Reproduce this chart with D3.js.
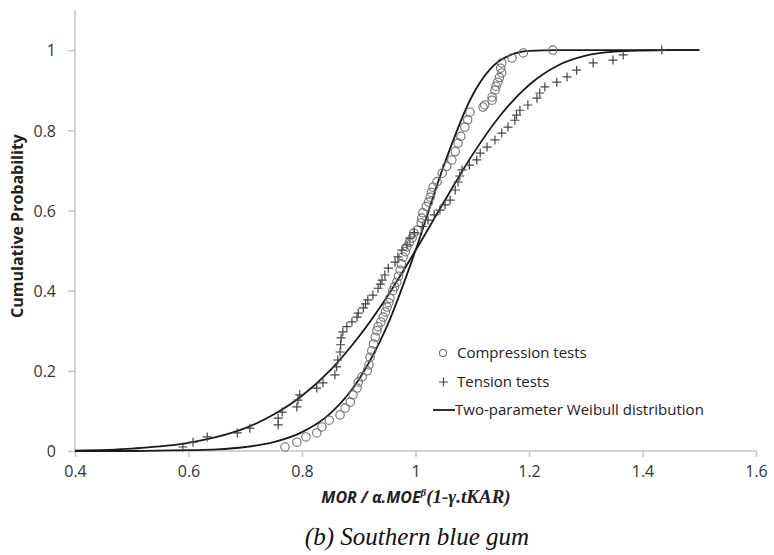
<!DOCTYPE html>
<html>
<head>
<meta charset="utf-8">
<script src="https://cdn.jsdelivr.net/npm/d3@7"></script>
<style>
  body { margin: 0; background: #fff; }
  .tick text { font-family: "Open Sans", sans-serif; font-size: 16px; fill: #333; }
</style>
</head>
<body>
<svg id="chart" width="774" height="555"></svg>
<script>
// fitted Weibull curves
var curveX = [0.4, 0.5, 0.6, 0.65, 0.7, 0.75, 0.8, 0.85, 0.9, 0.95, 1.0, 1.05, 1.1, 1.15, 1.2, 1.25, 1.3, 1.35, 1.4, 1.45, 1.5];
var compCurve = [0, 0, 0.002, 0.004, 0.010, 0.022, 0.047, 0.094, 0.178, 0.312, 0.500, 0.712, 0.886, 0.975, 0.998, 1, 1, 1, 1, 1, 1];
var tensCurve = [0.001, 0.006, 0.020, 0.035, 0.057, 0.091, 0.138, 0.202, 0.285, 0.385, 0.500, 0.621, 0.738, 0.838, 0.913, 0.961, 0.986, 0.996, 0.999, 1, 1];

// compression tests (circles)
var compX = [0.770, 0.791, 0.807, 0.826, 0.835, 0.848, 0.867, 0.876, 0.885, 0.890, 0.897, 0.899, 0.906, 0.915, 0.918, 0.920, 0.923, 0.926, 0.929, 0.932,
             0.934, 0.939, 0.943, 0.947, 0.950, 0.953, 0.955, 0.960, 0.963, 0.967, 0.970, 0.973, 0.975, 0.978, 0.982, 0.985, 0.989, 0.994, 0.997, 1.003,
             1.010, 1.011, 1.013, 1.019, 1.023, 1.026, 1.028, 1.031, 1.038, 1.047, 1.055, 1.064, 1.070, 1.075, 1.080, 1.087, 1.092, 1.096, 1.119, 1.122,
             1.135, 1.135, 1.140, 1.142, 1.145, 1.148, 1.152, 1.150, 1.152, 1.170, 1.190, 1.242];
var compY = [0.010, 0.022, 0.035, 0.045, 0.060, 0.077, 0.090, 0.107, 0.122, 0.140, 0.157, 0.172, 0.185, 0.200, 0.215, 0.234, 0.250, 0.267, 0.284, 0.300,
             0.310, 0.322, 0.334, 0.347, 0.359, 0.370, 0.381, 0.400, 0.410, 0.421, 0.436, 0.451, 0.467, 0.484, 0.497, 0.509, 0.520, 0.531, 0.544, 0.551,
             0.569, 0.581, 0.594, 0.610, 0.621, 0.633, 0.645, 0.658, 0.672, 0.693, 0.710, 0.726, 0.747, 0.768, 0.785, 0.808, 0.826, 0.845, 0.858, 0.863,
             0.875, 0.883, 0.900, 0.910, 0.920, 0.932, 0.943, 0.955, 0.968, 0.980, 0.993, 1.000];

// tension tests (plus signs)
var tensX = [0.590, 0.608, 0.633, 0.686, 0.708, 0.758, 0.758, 0.765, 0.791, 0.793, 0.796, 0.826, 0.837, 0.858, 0.861, 0.863, 0.867, 0.868, 0.869, 0.872,
             0.879, 0.888, 0.897, 0.899, 0.908, 0.912, 0.916, 0.925, 0.934, 0.938, 0.941, 0.946, 0.952, 0.964, 0.969, 0.976, 0.985, 0.990, 0.998, 1.012,
             1.022, 1.033, 1.043, 1.052, 1.061, 1.070, 1.075, 1.078, 1.082, 1.095, 1.108, 1.114, 1.126, 1.140, 1.152, 1.163, 1.175, 1.178, 1.184, 1.198,
             1.214, 1.219, 1.228, 1.249, 1.267, 1.284, 1.313, 1.348, 1.366, 1.434];
var tensY = [0.010, 0.022, 0.035, 0.045, 0.057, 0.065, 0.082, 0.097, 0.110, 0.127, 0.140, 0.157, 0.170, 0.190, 0.210, 0.227, 0.247, 0.265, 0.282, 0.297,
             0.310, 0.322, 0.334, 0.344, 0.357, 0.367, 0.377, 0.389, 0.406, 0.416, 0.426, 0.439, 0.456, 0.471, 0.484, 0.501, 0.514, 0.531, 0.545, 0.560,
             0.576, 0.589, 0.601, 0.614, 0.626, 0.651, 0.671, 0.686, 0.701, 0.713, 0.726, 0.743, 0.758, 0.776, 0.793, 0.808, 0.825, 0.838, 0.850, 0.863,
             0.880, 0.893, 0.908, 0.920, 0.933, 0.950, 0.968, 0.975, 0.988, 1.000];

var xTicks = [0.4, 0.6, 0.8, 1, 1.2, 1.4, 1.6];
var yTicks = [0, 0.2, 0.4, 0.6, 0.8, 1];
var legendLabels = ["Compression tests", "Tension tests", "Two-parameter Weibull distribution"];

(function() {
  var svg = d3.select("svg#chart");

  var x = d3.scaleLinear().domain([0.4, 1.6]).range([75, 756]);
  var y = d3.scaleLinear().domain([0, 1.1]).range([451, 10]);

  var axisColor = "#c4c4c4";

  // y axis
  var gy = svg.append("g")
    .attr("transform", "translate(75,0)")
    .call(d3.axisLeft(y).tickValues(yTicks).tickSize(7).tickPadding(12)
      .tickFormat(function(d) { return d3.format("")(d); }));
  gy.select(".domain").attr("stroke", axisColor).attr("stroke-width", 1.5).attr("d", "M0,10V451");
  gy.selectAll(".tick line").attr("stroke", axisColor).attr("stroke-width", 1.5);
  gy.selectAll(".tick text").attr("dy", "0.36em");

  // x axis
  var gx = svg.append("g")
    .attr("transform", "translate(0,451)")
    .call(d3.axisBottom(x).tickValues(xTicks).tickSize(6).tickPadding(9)
      .tickFormat(function(d) { return d3.format("")(d); }));
  gx.select(".domain").attr("stroke", axisColor).attr("stroke-width", 1.5).attr("d", "M75,0H756");
  gx.selectAll(".tick line").attr("stroke", axisColor).attr("stroke-width", 1.5);

  // weibull curves
  var line = d3.line()
    .x(function(d) { return x(d[0]); })
    .y(function(d) { return y(d[1]); })
    .curve(d3.curveMonotoneX);

  [compCurve, tensCurve].forEach(function(c) {
    svg.append("path")
      .datum(curveX.map(function(v, i) { return [v, c[i]]; }))
      .attr("fill", "none")
      .attr("stroke", "#1a1a1a")
      .attr("stroke-width", 1.8)
      .attr("d", line);
  });

  // compression circles
  svg.append("g").selectAll("circle")
    .data(compX.map(function(v, i) { return [v, compY[i]]; }))
    .enter().append("circle")
    .attr("cx", function(d) { return x(d[0]); })
    .attr("cy", function(d) { return y(d[1]); })
    .attr("r", 4.2)
    .attr("fill", "none")
    .attr("stroke", "#6e6e6e")
    .attr("stroke-width", 1.1);

  // tension plus signs
  svg.append("g").selectAll("path")
    .data(tensX.map(function(v, i) { return [v, tensY[i]]; }))
    .enter().append("path")
    .attr("transform", function(d) { return "translate(" + x(d[0]) + "," + y(d[1]) + ")"; })
    .attr("d", "M-4.5,0H4.5M0,-4.5V4.5")
    .attr("fill", "none")
    .attr("stroke", "#444")
    .attr("stroke-width", 1.2);

  // legend
  var lg = svg.append("g").attr("font-family", "Open Sans, sans-serif").attr("font-size", 15).attr("fill", "#222");
  lg.append("circle").attr("cx", 443).attr("cy", 353).attr("r", 3.5)
    .attr("fill", "none").attr("stroke", "#6e6e6e").attr("stroke-width", 1.1);
  lg.append("path").attr("d", "M439,382H448M443.5,377.5V386.5").attr("stroke", "#444").attr("stroke-width", 1.2);
  lg.append("line").attr("x1", 433).attr("x2", 455).attr("y1", 410).attr("y2", 410)
    .attr("stroke", "#1a1a1a").attr("stroke-width", 1.8);
  lg.selectAll("text").data(legendLabels).enter().append("text")
    .attr("x", function(d, i) { return i == 2 ? 455 : 457; })
    .attr("y", function(d, i) { return 353 + i * 28.5; })
    .attr("dy", "0.35em")
    .text(function(d) { return d; });

  // y axis title
  svg.append("text")
    .attr("transform", "translate(23,226) rotate(-90)")
    .attr("text-anchor", "middle")
    .attr("font-family", "Open Sans, sans-serif")
    .attr("font-weight", "bold")
    .attr("font-size", 16)
    .attr("fill", "#222")
    .text("Cumulative Probability");

  // x axis title
  var xt = svg.append("text")
    .attr("x", 416).attr("y", 503)
    .attr("text-anchor", "middle")
    .attr("font-weight", "bold")
    .attr("font-style", "italic")
    .attr("fill", "#222");
  xt.append("tspan").attr("font-family", "Open Sans, sans-serif").attr("font-size", 16).text("MOR / α.MOE");
  xt.append("tspan").attr("font-family", "Liberation Serif, serif").attr("font-size", 11).attr("dy", -7).text("β");
  xt.append("tspan").attr("font-family", "Liberation Serif, serif").attr("font-size", 19).attr("dy", 7).text("(1-γ.tKAR)");

  // caption
  svg.append("text")
    .attr("x", 417).attr("y", 545)
    .attr("text-anchor", "middle")
    .attr("font-family", "Liberation Serif, serif")
    .attr("font-style", "italic")
    .attr("font-size", 25)
    .attr("fill", "#111")
    .text("(b) Southern blue gum");
})();
</script>
</body>
</html>
